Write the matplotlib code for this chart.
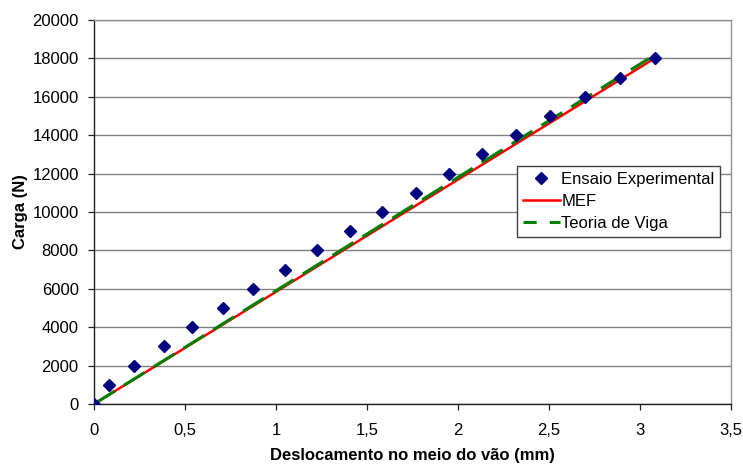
import matplotlib
matplotlib.use("Agg")
import matplotlib.pyplot as plt
from matplotlib.legend_handler import HandlerLine2D
from matplotlib.ticker import FuncFormatter, MultipleLocator

plt.rcParams['font.family'] = ['Liberation Sans', 'DejaVu Sans']

# Experimental test: mid-span displacement (mm) vs load (N)
ensaio_desloc = [0.0, 0.080, 0.219, 0.385, 0.541, 0.707, 0.872, 1.052, 1.228,
                 1.405, 1.583, 1.771, 1.950, 2.134, 2.318, 2.506, 2.698, 2.890, 3.081]
ensaio_carga = [0, 1000, 2000, 3000, 4000, 5000, 6000, 7000, 8000, 9000,
                10000, 11000, 12000, 13000, 14000, 15000, 16000, 17000, 18000]

# Finite element model (MEF)
mef_desloc = [0.0, 3.08]
mef_carga = [0, 18000]

# Beam theory
viga_desloc = [0.0, 3.05]
viga_carga = [0, 18000]

fig = plt.figure(figsize=(7.43, 4.65), dpi=100)
ax = fig.add_axes([94 / 743, 1 - 404 / 465, (731 - 94) / 743, (404 - 20) / 465])

ax.plot(mef_desloc, mef_carga, color='#ff0000', lw=1.8, label='MEF', zorder=3)
viga_line, = ax.plot(viga_desloc, viga_carga, color='#008000', lw=2.2, ls=(0, (8, 3.5)),
                     label='Teoria de Viga', zorder=4)
ax.plot(ensaio_desloc, ensaio_carga, ls='none', marker='D', ms=6.3,
        color='#000080', label='Ensaio Experimental', zorder=5)

ax.set_xlim(0, 3.5)
ax.set_ylim(0, 20000)
ax.xaxis.set_major_locator(MultipleLocator(0.5))
ax.yaxis.set_major_locator(MultipleLocator(2000))
ax.xaxis.set_major_formatter(FuncFormatter(lambda v, p: ('%g' % v).replace('.', ',')))
ax.yaxis.set_major_formatter(FuncFormatter(lambda v, p: '%d' % v))

ax.grid(axis='y', color='#808080', lw=1.0)
ax.set_axisbelow(True)
for side in ['top', 'right']:
    ax.spines[side].set_color('#909090')
    ax.spines[side].set_linewidth(1.0)
for side in ['left', 'bottom']:
    ax.spines[side].set_color('#202020')
    ax.spines[side].set_linewidth(1.0)

ax.tick_params(axis='both', direction='out', length=4, width=0.9,
               labelsize=12, color='#202020')
ax.tick_params(axis='x', pad=10)
ax.tick_params(axis='y', pad=7)

ax.set_xlabel('Deslocamento no meio do vão (mm)', fontsize=12, fontweight='bold', labelpad=7)
ax.set_ylabel('Carga (N)', fontsize=12, fontweight='bold', labelpad=3)


def short_dashes(legend_line, orig_line):
    legend_line.update_from(orig_line)
    legend_line.set_linestyle((0, (4.3, 4.3)))


handles, labels = ax.get_legend_handles_labels()
order = [2, 0, 1]
leg = ax.legend([handles[i] for i in order], [labels[i] for i in order],
                loc='upper left', bbox_to_anchor=(517 / 743, 1 - 166 / 465),
                bbox_transform=fig.transFigure, fontsize=12, frameon=True,
                fancybox=False, shadow=False, framealpha=1, edgecolor='#404040',
                borderpad=0.35, labelspacing=0.42, handlelength=2.2,
                handletextpad=0.1, borderaxespad=0,
                handler_map={viga_line: HandlerLine2D(update_func=short_dashes)})
leg.get_frame().set_linewidth(1.0)

fig.savefig('out.png', dpi=100, facecolor='white')
